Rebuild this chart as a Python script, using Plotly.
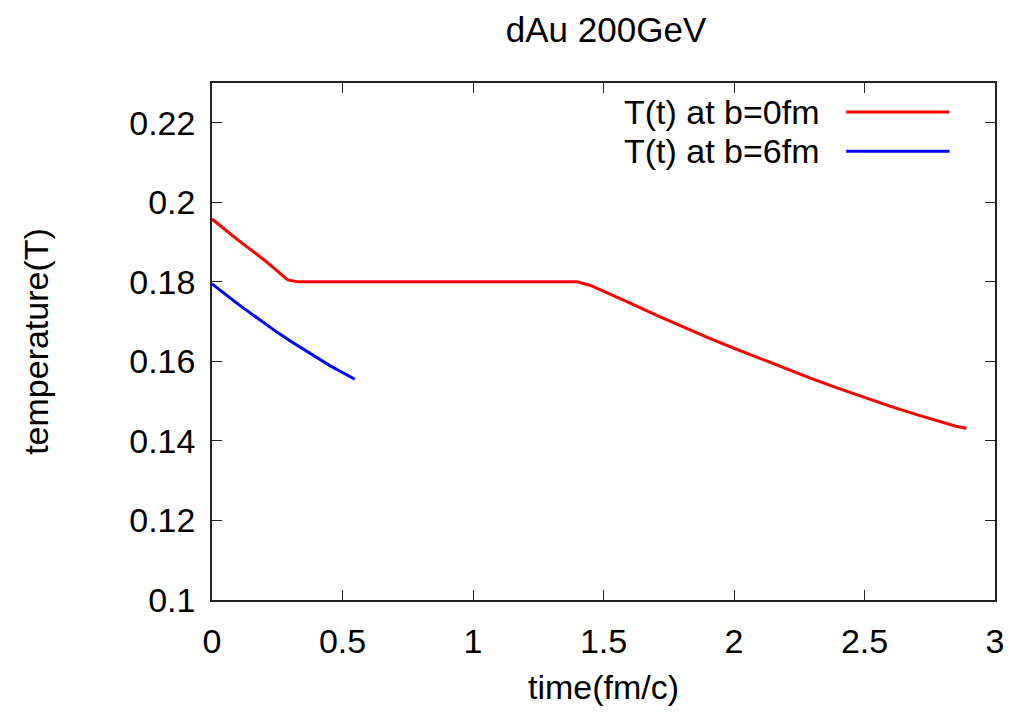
import plotly.graph_objects as go

# Data
t_b0 = [0.0, 0.1, 0.2, 0.29, 0.33, 0.5, 1.0, 1.4, 1.45, 1.5, 1.6, 1.7, 1.8, 1.9, 2.0,
        2.1, 2.2, 2.3, 2.4, 2.5, 2.6, 2.7, 2.8, 2.85, 2.89]
T_b0 = [0.1958, 0.1905, 0.1855, 0.1805, 0.1800, 0.1800, 0.1800, 0.1800, 0.1791, 0.1777,
        0.1747, 0.1717, 0.1688, 0.1660, 0.1633, 0.1607, 0.1581, 0.1556, 0.1532, 0.1509,
        0.1487, 0.1466, 0.1446, 0.1437, 0.1432]
t_b6 = [0.0, 0.05, 0.1, 0.15, 0.2, 0.25, 0.3, 0.35, 0.4, 0.45, 0.5, 0.547]
T_b6 = [0.1795, 0.1769, 0.1744, 0.1720, 0.1696, 0.1673, 0.1651, 0.1630, 0.1610, 0.1590,
        0.1572, 0.1555]

series_names = ["T(t) at b=0fm", "T(t) at b=6fm"]
series_colors = ["#ff0000", "#0000ff"]

x_ticks = [0, 0.5, 1, 1.5, 2, 2.5, 3]
x_ticklabels = ["0", "0.5", "1", "1.5", "2", "2.5", "3"]
y_ticks = [0.1, 0.12, 0.14, 0.16, 0.18, 0.2, 0.22]
y_ticklabels = ["0.1", "0.12", "0.14", "0.16", "0.18", "0.2", "0.22"]

FONT = "Liberation Sans, Arial, Helvetica, sans-serif"

fig = go.Figure()
for xs, ys, name, col in zip([t_b0, t_b6], [T_b0, T_b6], series_names, series_colors):
    fig.add_trace(go.Scatter(x=xs, y=ys, mode="lines", name=name,
                             line=dict(color=col, width=3), showlegend=False))

axis_common = dict(showline=True, linecolor="#222222", linewidth=1.5, mirror="ticks",
                   ticks="inside", ticklen=10, tickwidth=1.2, tickcolor="#222222",
                   showgrid=False, zeroline=False,
                   tickfont=dict(family=FONT, size=34, color="#000000"))

fig.update_xaxes(range=[0, 3], tickvals=x_ticks, ticktext=x_ticklabels,
                 ticklabelstandoff=10,
                 title=dict(text="time(fm/c)", font=dict(family=FONT, size=34, color="#000"),
                            standoff=17),
                 **axis_common)
fig.update_yaxes(range=[0.1, 0.23], tickvals=y_ticks, ticktext=y_ticklabels,
                 ticklabelstandoff=8,
                 title=dict(text="temperature(T)", font=dict(family=FONT, size=34, color="#000"),
                            standoff=70),
                 **axis_common)

# gnuplot-style key: text right-aligned, sample line on the right
key_y = [0.944, 0.868]
for name, col, ky in zip(series_names, series_colors, key_y):
    fig.add_annotation(x=0.779, y=ky, xref="paper", yref="paper", text=name,
                       showarrow=False, xanchor="right", yanchor="middle",
                       font=dict(family=FONT, size=34, color="#000"))
    fig.add_shape(type="line", xref="paper", yref="paper", x0=0.81, x1=0.942,
                  y0=ky, y1=ky, line=dict(color=col, width=3))

fig.update_layout(
    width=1016, height=719,
    margin=dict(l=212, r=16, t=83, b=119),
    paper_bgcolor="white", plot_bgcolor="white",
    title=dict(text="dAu 200GeV", x=0.5965, xanchor="center", y=0.958, yanchor="middle",
               font=dict(family=FONT, size=35, color="#000")),
)

fig.write_html("out.html")
